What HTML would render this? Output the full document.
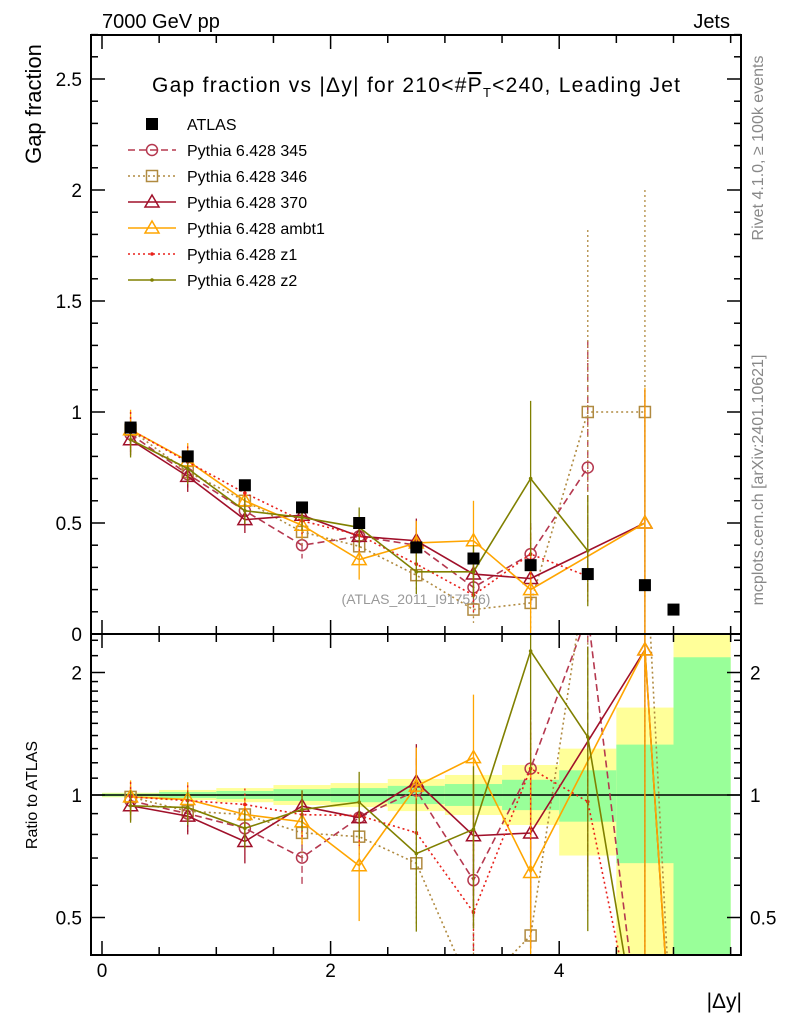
<!DOCTYPE html>
<html><head><meta charset="utf-8"><style>
html,body{margin:0;background:#fff;overflow:hidden;width:786px;height:1024px;}
svg{display:block;font-family:"Liberation Sans","DejaVu Sans",sans-serif;}
</style></head><body>
<svg id="chart" width="786" height="1024" viewBox="0 0 786 1024">
<defs>
<clipPath id="cm"><rect x="91" y="35" width="650" height="599"/></clipPath>
<clipPath id="cr"><rect x="91" y="634" width="650" height="321"/></clipPath>
</defs>
<text x="102" y="28" font-size="20">7000 GeV pp</text>
<text x="730" y="28" font-size="20" text-anchor="end">Jets</text>
<text x="152" y="92" font-size="21" textLength="528" lengthAdjust="spacing">Gap fraction vs |Δy| for 210&lt;#<tspan text-decoration="overline">P</tspan><tspan font-size="13" dy="5">T</tspan><tspan dy="-5">&lt;240, Leading Jet</tspan></text>
<text transform="translate(41,104) rotate(-90)" font-size="22" text-anchor="middle">Gap fraction</text>
<text transform="translate(37,795) rotate(-90)" font-size="16" text-anchor="middle">Ratio to ATLAS</text>
<text x="742" y="1008" font-size="21" text-anchor="end">|Δy|</text>
<text transform="translate(763,148) rotate(-90)" font-size="16" fill="#888" text-anchor="middle">Rivet 4.1.0, ≥ 100k events</text>
<text transform="translate(763,480) rotate(-90)" font-size="16" fill="#888" text-anchor="middle">mcplots.cern.ch [arXiv:2401.10621]</text>
<text x="416" y="604" font-size="14" fill="#999" text-anchor="middle">(ATLAS_2011_I917526)</text>
<g id="bands" clip-path="url(#cr)"></g>
<g id="ratioMarks" clip-path="url(#cr)"></g>
<g id="mainMarks" clip-path="url(#cm)"></g>
<g id="axes"></g>
<g id="legend"></g>
</svg>
<script>
const xCenters=[0.25,0.75,1.25,1.75,2.25,2.75,3.25,3.75,4.25,4.75,5.0];
const binLo=[0,0.5,1,1.5,2,2.5,3,3.5,4,4.5,5];
const binHi=[0.5,1,1.5,2,2.5,3,3.5,4,4.5,5,5.5];
const atlasVals=[0.93,0.80,0.67,0.57,0.50,0.39,0.34,0.31,0.27,0.22,0.11];
const greenHi=[1.008,1.017,1.023,1.034,1.04,1.053,1.064,1.09,1.15,1.33,2.18];
const greenLo=[0.992,0.983,0.978,0.967,0.96,0.95,0.94,0.918,0.86,0.68,0.3];
const yellowHi=[1.013,1.029,1.04,1.058,1.07,1.095,1.12,1.185,1.30,1.64,3.0];
const yellowLo=[0.987,0.972,0.96,0.945,0.934,0.913,0.893,0.844,0.71,0.3,0.3];
const v345=[0.90,0.72,0.555,0.40,0.44,0.40,0.21,0.36,0.75,0,null];
const e345=[0.08,0.07,0.06,0.06,0.07,0.08,0.10,0.14,0.57,0,0];
const v346=[0.92,0.73,0.60,0.46,0.395,0.265,0.11,0.14,1.0,1.0,0];
const e346=[0.08,0.07,0.06,0.06,0.07,0.08,0.06,0.12,0.82,1.0,0];
const v370=[0.875,0.71,0.515,0.535,0.44,0.42,0.27,0.25,null,0.5,0];
const e370=[0.07,0.07,0.06,0.05,0.07,0.10,0.10,0.12,0,0.6,0];
const vAmbt1=[0.92,0.78,0.60,0.49,0.335,0.41,0.42,0.20,null,0.5,0];
const eAmbt1=[0.09,0.08,0.06,0.06,0.09,0.10,0.18,0.25,0,0.61,0];
const vZ1=[0.92,0.775,0.635,0.51,0.445,0.315,0.175,0.36,0.26,0,null];
const eZ1=[0.08,0.07,0.06,0.06,0.07,0.09,0.09,0.12,0.12,0,0];
const vZ2=[0.875,0.745,0.555,0.525,0.48,0.28,0.28,0.70,0.375,0,null];
const eZ2=[0.08,0.07,0.06,0.06,0.09,0.10,0.12,0.35,0.25,0,0];
const mainTicks=[0,0.5,1,1.5,2,2.5];
const mainTickLabels=["0","0.5","1","1.5","2","2.5"];
const ratioTicks=[0.5,1,2];
const ratioTickLabels=["0.5","1","2"];
const xTicks=[0,2,4];
const xTickLabels=["0","2","4"];

const NS="http://www.w3.org/2000/svg";
function X(v){return 102+v*114.3;}
function Ym(v){return 634-v*222;}
function Yr(r){return 795-Math.log2(Math.max(r,0.2))*122.5;}
function mk(tag,attrs,parent){const e=document.createElementNS(NS,tag);for(const k in attrs)e.setAttribute(k,attrs[k]);parent.appendChild(e);return e;}
const bands=document.getElementById('bands');
const rm=document.getElementById('ratioMarks');
const mm=document.getElementById('mainMarks');
const ax=document.getElementById('axes');
const lg=document.getElementById('legend');

xCenters.forEach((c,i)=>{
  const x0=X(binLo[i]),w=X(binHi[i])-x0;
  let r=mk('rect',{x:x0,y:Yr(yellowHi[i]),width:w,height:Yr(yellowLo[i])-Yr(yellowHi[i]),fill:'#ffff99'},bands);
  
  
  let g=mk('rect',{x:x0,y:Yr(greenHi[i]),width:w,height:Yr(greenLo[i])-Yr(greenHi[i]),fill:'#99ff99'},bands);
  
  
});
let one=mk('line',{x1:91,x2:741,y1:Yr(1),y2:Yr(1),stroke:'#000','stroke-width':1.5},rm);



const series=[
 {name:'Pythia 6.428 345',v:v345,e:e345,c:'#b5384f',dash:'7,4',m:'circle'},
 {name:'Pythia 6.428 346',v:v346,e:e346,c:'#b08a40',dash:'2,3',m:'square'},
 {name:'Pythia 6.428 370',v:v370,e:e370,c:'#a0102a',dash:'',m:'tri'},
 {name:'Pythia 6.428 ambt1',v:vAmbt1,e:eAmbt1,c:'#ffa500',dash:'',m:'tri'},
 {name:'Pythia 6.428 z1',v:vZ1,e:eZ1,c:'#e8201a',dash:'2,3',m:'dot'},
 {name:'Pythia 6.428 z2',v:vZ2,e:eZ2,c:'#808000',dash:'',m:'dot'}
];
function marker(m,x,y,c,p){
  let e;
  if(m==='circle')e=mk('circle',{cx:x,cy:y,r:5.5,fill:'none',stroke:c,'stroke-width':1.5},p);
  else if(m==='square')e=mk('rect',{x:x-5.5,y:y-5.5,width:11,height:11,fill:'none',stroke:c,'stroke-width':1.5},p);
  else if(m==='tri')e=mk('polygon',{points:`${x},${y-7} ${x-7},${y+5} ${x+7},${y+5}`,fill:'none',stroke:c,'stroke-width':1.5},p);
  else if(m==='dot')e=mk('circle',{cx:x,cy:y,r:1.8,fill:c},p);
  else e=mk('rect',{x:x-6,y:y-6,width:12,height:12,fill:c},p);
  return e;
}
series.forEach((s,si)=>{
  const slug=s.name.split(' ').pop();
  let pts=[];
  s.v.forEach((v,i)=>{if(v!==null&&v>0)pts.push([X(xCenters[i]),Ym(v),i]);});
  let pl=mk('polyline',{points:pts.map(p=>p[0]+','+p[1]).join(' '),fill:'none',stroke:s.c,'stroke-width':1.6,'stroke-dasharray':s.dash},mm);
  
  
  pts.forEach(p=>{
    const i=p[2],v=s.v[i],e=s.e[i];
    let eb=mk('line',{x1:p[0],x2:p[0],y1:Ym(v+e),y2:Ym(Math.max(v-e,0)),stroke:s.c,'stroke-width':1.3,'stroke-dasharray':s.dash},mm);
    
    
    let mkr=marker(s.m,p[0],p[1],s.c,mm);
    
    
  });
  let rp=[];
  s.v.forEach((v,i)=>{if(v!==null)rp.push([X(xCenters[i]),Yr(v/atlasVals[i]),i]);});
  let rl=mk('polyline',{points:rp.map(p=>p[0]+','+p[1]).join(' '),fill:'none',stroke:s.c,'stroke-width':1.6,'stroke-dasharray':s.dash},rm);
  
  
  rp.forEach(p=>{
    const i=p[2],v=s.v[i],e=s.e[i];
    if(v<=0)return;
    let eb=mk('line',{x1:p[0],x2:p[0],y1:Yr((v+e)/atlasVals[i]),y2:Yr(Math.max(v-e,0.001)/atlasVals[i]),stroke:s.c,'stroke-width':1.3,'stroke-dasharray':s.dash},rm);
    
    
    let mkr=marker(s.m,p[0],p[1],s.c,rm);
    
    
  });
});
atlasVals.forEach((v,i)=>{
  let m=marker('fill',X(xCenters[i]),Ym(v),'#000',mm);
  
  
});

let f1=mk('rect',{x:91,y:35,width:650,height:599,fill:'none',stroke:'#000','stroke-width':2},ax);


let f2=mk('rect',{x:91,y:634,width:650,height:321,fill:'none',stroke:'#000','stroke-width':2},ax);


for(let k=0;k<=27;k++){
  const v=k*0.1,y=Ym(v),L=(k%5===0)?14:7;
  mk('line',{x1:91,x2:91+L,y1:y,y2:y,stroke:'#000','stroke-width':1.5},ax);
  mk('line',{x1:741,x2:741-L,y1:y,y2:y,stroke:'#000','stroke-width':1.5},ax);
}
mainTicks.forEach((v,i)=>{
  let t=mk('text',{x:82,y:Ym(v)+7,'font-size':19,'text-anchor':'end'},ax);
  t.textContent=mainTickLabels[i];
  
  
});
[0.5,0.6,0.7,0.8,0.9,1,1.1,1.2,1.3,1.4,1.5,1.6,1.7,1.8,1.9,2,2.2,2.4].forEach(r=>{
  const y=Yr(r),L=ratioTicks.includes(r)?14:7;
  mk('line',{x1:91,x2:91+L,y1:y,y2:y,stroke:'#000','stroke-width':1.5},ax);
  mk('line',{x1:741,x2:741-L,y1:y,y2:y,stroke:'#000','stroke-width':1.5},ax);
});
ratioTicks.forEach((r,i)=>{
  let t=mk('text',{x:82,y:Yr(r)+7,'font-size':19,'text-anchor':'end'},ax);
  t.textContent=ratioTickLabels[i];
  
  
  let t2=mk('text',{x:750,y:Yr(r)+7,'font-size':19},ax);
  t2.textContent=ratioTickLabels[i];
  
  
});
for(let k=0;k<=11;k++){
  const v=k*0.5,x=X(v),L=(k%4===0)?14:8;
  if(x>740)continue;
  [[634,-1],[955,-1],[35,1],[634,1]].forEach(([y0,d])=>{
    mk('line',{x1:x,x2:x,y1:y0,y2:y0+d*L,stroke:'#000','stroke-width':1.5},ax);
  });
}
xTicks.forEach((v,i)=>{
  let t=mk('text',{x:X(v),y:977,'font-size':19,'text-anchor':'middle'},ax);
  t.textContent=xTickLabels[i];
  
  
});
const entries=[{name:'ATLAS',c:'#000',m:'fill',dash:'',line:false}].concat(series.map(s=>({name:s.name,c:s.c,m:s.m,dash:s.dash,line:true})));
entries.forEach((e,i)=>{
  const y=124+i*26;
  const g=mk('g',{},lg);
  
  
  if(e.line)mk('line',{x1:128,x2:176,y1:y,y2:y,stroke:e.c,'stroke-width':1.6,'stroke-dasharray':e.dash},g);
  marker(e.m,152,y,e.c,g);
  const t=mk('text',{x:187,y:y+6,'font-size':16},g);
  t.textContent=e.name;
});
</script>
</body></html>
